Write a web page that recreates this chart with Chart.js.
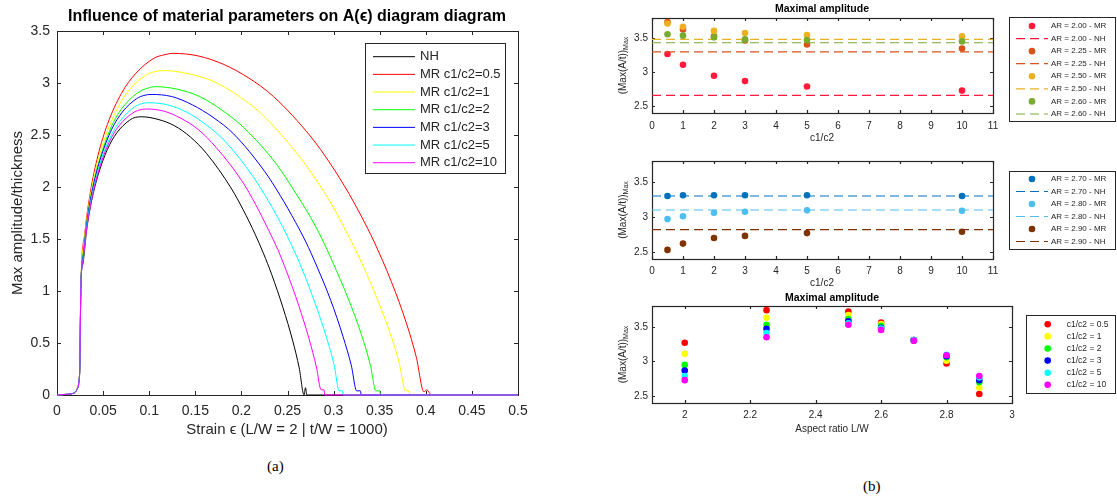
<!DOCTYPE html>
<html>
<head>
<meta charset="utf-8">
<script src="https://cdn.jsdelivr.net/npm/chart.js@4.4.1/dist/chart.umd.min.js"></script>
<style>
  body { margin: 0; background: #fff; }
  #page { position: relative; width: 1117px; height: 500px; overflow: hidden; background: #fff; }
  .box { position: absolute; }
  .cap { position: absolute; font-family: "Liberation Serif", "DejaVu Serif", serif; font-size: 15px; color: #000; }
</style>
</head>
<body>
<div id="page">
  <div class="box" style="left:0;top:0;width:540px;height:450px"><canvas id="chartA"></canvas></div>
  <div class="box" style="left:560px;top:0;width:557px;height:150px"><canvas id="chartB1"></canvas></div>
  <div class="box" style="left:560px;top:150px;width:557px;height:145px"><canvas id="chartB2"></canvas></div>
  <div class="box" style="left:560px;top:280px;width:557px;height:160px"><canvas id="chartB3"></canvas></div>
  <div class="cap" style="left:267px;top:458px">(a)</div>
  <div class="cap" style="left:863px;top:478px">(b)</div>
</div>
<script>
const SANS = '"Liberation Sans", Arial, sans-serif';
const AXIS = '#262626';

// ---- (a) amplitude vs strain, one pair of arrays per curve ----
const nhStrain   = [0, 0.008, 0.016, 0.02, 0.022, 0.0235, 0.0248, 0.026, 0.0281, 0.0322, 0.0376, 0.0444, 0.0546, 0.0648, 0.0784, 0.0852, 0.092, 0.1096, 0.1272, 0.1448, 0.1624, 0.1888, 0.202, 0.2152, 0.224, 0.2328, 0.2451, 0.2557, 0.2627, 0.268, 0.2695, 0.271, 0.5];
const nhAmp      = [0, 0.005, 0.012, 0.03, 0.06, 0.11, 0.3, 1.09, 1.26, 1.59, 1.87, 2.11, 2.36, 2.52, 2.64, 2.67, 2.675, 2.65, 2.59, 2.48, 2.32, 1.99, 1.78, 1.54, 1.36, 1.16, 0.84, 0.52, 0.26, 0, 0.07, 0, 0];
const mr05Strain = [0, 0.008, 0.016, 0.02, 0.022, 0.0235, 0.0248, 0.0258, 0.0301, 0.0362, 0.0444, 0.0546, 0.0699, 0.0852, 0.1056, 0.1158, 0.126, 0.1532, 0.1804, 0.2076, 0.2348, 0.2756, 0.296, 0.3164, 0.33, 0.3436, 0.3626, 0.379, 0.3898, 0.398, 0.401, 0.404, 0.406, 0.5];
const mr05Amp    = [0, 0.005, 0.012, 0.03, 0.06, 0.11, 0.3, 1.0, 1.55, 1.95, 2.30, 2.60, 2.90, 3.09, 3.24, 3.27, 3.285, 3.26, 3.18, 3.05, 2.87, 2.48, 2.23, 1.94, 1.72, 1.48, 1.09, 0.69, 0.36, 0.03, 0.05, 0.02, 0, 0];
const mr1Strain  = [0, 0.008, 0.016, 0.02, 0.022, 0.0235, 0.0248, 0.0258, 0.0295, 0.035, 0.0423, 0.0515, 0.0652, 0.0789, 0.0972, 0.1064, 0.1155, 0.1419, 0.1682, 0.1946, 0.2209, 0.2604, 0.2802, 0.3, 0.3131, 0.3263, 0.3447, 0.3606, 0.3711, 0.378, 0.382, 0.383, 0.5];
const mr1Amp     = [0, 0.005, 0.012, 0.03, 0.06, 0.11, 0.3, 1.0, 1.47, 1.85, 2.18, 2.46, 2.75, 2.94, 3.08, 3.11, 3.12, 3.09, 3.02, 2.89, 2.71, 2.32, 2.08, 1.80, 1.58, 1.35, 0.98, 0.61, 0.31, 0.04, 0.04, 0, 0];
const mr2Strain  = [0, 0.008, 0.016, 0.02, 0.022, 0.0235, 0.0248, 0.0258, 0.029, 0.0339, 0.0405, 0.0488, 0.0611, 0.0735, 0.09, 0.0983, 0.1065, 0.1306, 0.1546, 0.1787, 0.2027, 0.2388, 0.2568, 0.2749, 0.2869, 0.2989, 0.3157, 0.3302, 0.3398, 0.346, 0.35, 0.351, 0.5];
const mr2Amp     = [0, 0.005, 0.012, 0.03, 0.06, 0.11, 0.3, 1.0, 1.40, 1.76, 2.07, 2.34, 2.62, 2.79, 2.92, 2.95, 2.965, 2.94, 2.87, 2.74, 2.57, 2.21, 1.97, 1.71, 1.51, 1.28, 0.93, 0.58, 0.29, 0.04, 0.04, 0, 0];
const mr3Strain  = [0, 0.008, 0.016, 0.02, 0.022, 0.0235, 0.0248, 0.0258, 0.0287, 0.0334, 0.0396, 0.0474, 0.0591, 0.0708, 0.0864, 0.0942, 0.102, 0.1244, 0.1468, 0.1692, 0.1916, 0.2252, 0.242, 0.2588, 0.27, 0.2812, 0.2969, 0.3103, 0.3193, 0.325, 0.329, 0.330, 0.5];
const mr3Amp     = [0, 0.005, 0.012, 0.03, 0.06, 0.11, 0.3, 1.0, 1.36, 1.72, 2.02, 2.28, 2.55, 2.72, 2.85, 2.88, 2.89, 2.87, 2.79, 2.67, 2.51, 2.15, 1.92, 1.66, 1.47, 1.25, 0.91, 0.56, 0.28, 0.04, 0.04, 0, 0];
const mr5Strain  = [0, 0.008, 0.016, 0.02, 0.022, 0.0235, 0.0248, 0.0258, 0.0285, 0.033, 0.039, 0.0465, 0.0578, 0.069, 0.084, 0.0915, 0.099, 0.1198, 0.1406, 0.1614, 0.1822, 0.2134, 0.229, 0.2446, 0.255, 0.2654, 0.28, 0.2924, 0.3008, 0.306, 0.3095, 0.3105, 0.5];
const mr5Amp     = [0, 0.005, 0.012, 0.03, 0.06, 0.11, 0.3, 1.0, 1.32, 1.67, 1.96, 2.22, 2.48, 2.64, 2.77, 2.80, 2.81, 2.79, 2.72, 2.60, 2.44, 2.09, 1.87, 1.62, 1.43, 1.22, 0.88, 0.55, 0.28, 0.04, 0.04, 0, 0];
const mr10Strain = [0, 0.008, 0.016, 0.02, 0.022, 0.0235, 0.0248, 0.0258, 0.0283, 0.0327, 0.0385, 0.0457, 0.0566, 0.0674, 0.0819, 0.0892, 0.0964, 0.1155, 0.1345, 0.1536, 0.1726, 0.2012, 0.2155, 0.2298, 0.2394, 0.2489, 0.2622, 0.2737, 0.2813, 0.2865, 0.2895, 0.2905, 0.5];
const mr10Amp    = [0, 0.005, 0.012, 0.03, 0.06, 0.11, 0.3, 1.0, 1.30, 1.63, 1.92, 2.17, 2.43, 2.59, 2.71, 2.74, 2.75, 2.73, 2.66, 2.55, 2.38, 2.05, 1.83, 1.58, 1.40, 1.19, 0.86, 0.53, 0.27, 0.05, 0.05, 0, 0];

const strainTicks  = [0, 0.05, 0.1, 0.15, 0.2, 0.25, 0.3, 0.35, 0.4, 0.45, 0.5];
const strainLabels = ['0', '0.05', '0.1', '0.15', '0.2', '0.25', '0.3', '0.35', '0.4', '0.45', '0.5'];
const ampTicks     = [0, 0.5, 1, 1.5, 2, 2.5, 3, 3.5];
const ampLabels    = ['0', '0.5', '1', '1.5', '2', '2.5', '3', '3.5'];

// ---- (b) maximal amplitude, MR points per aspect ratio over c1/c2 ----
const ratios   = [0.5, 1, 2, 3, 5, 10];
const mrAR200  = [3.27, 3.11, 2.95, 2.87, 2.79, 2.73];
const mrAR225  = [3.74, 3.63, 3.53, 3.47, 3.41, 3.35];
const mrAR250  = [3.72, 3.67, 3.61, 3.58, 3.55, 3.53];
const mrAR260  = [3.56, 3.54, 3.515, 3.485, 3.475, 3.455];
const mrAR270  = [3.30, 3.31, 3.31, 3.31, 3.31, 3.30];
const mrAR280  = [2.97, 3.01, 3.06, 3.075, 3.095, 3.09];
const mrAR290  = [2.53, 2.62, 2.70, 2.73, 2.77, 2.79];
const aspect   = [2.00, 2.25, 2.50, 2.60, 2.70, 2.80, 2.90];
const aspectLb = ['2.00', '2.25', '2.50', '2.60', '2.70', '2.80', '2.90'];
const nhByAR   = [2.66, 3.30, 3.485, 3.435, 3.30, 3.10, 2.82];

const ratioTicks  = [0, 1, 2, 3, 4, 5, 6, 7, 8, 9, 10, 11];
const ratioLabels = ['0', '1', '2', '3', '4', '5', '6', '7', '8', '9', '10', '11'];
const maxTicks    = [2.5, 3, 3.5];
const maxLabels   = ['2.5', '3', '3.5'];
const arTicks     = [2, 2.2, 2.4, 2.6, 2.8, 3];
const arLabels    = ['2', '2.2', '2.4', '2.6', '2.8', '3'];

const mrByAR   = [mrAR200, mrAR225, mrAR250, mrAR260, mrAR270, mrAR280, mrAR290];
const arColors = ['#ff1a3c', '#d95319', '#edb120', '#77ac30', '#0072bd', '#4dbeee', '#7f3300'];
const ratioColors = ['#ff0000', '#ffff00', '#00ff00', '#0000ff', '#00ffff', '#ff00ff'];

// box round the axes with inward ticks, MATLAB style
const framePlugin = {
  id: 'frame',
  beforeDatasetsDraw(chart, args, o) {
    const { ctx, chartArea: a, scales: { x, y } } = chart;
    const t = o.tick || 4;
    ctx.save();
    ctx.strokeStyle = AXIS;
    ctx.lineWidth = o.width || 1;
    ctx.beginPath();
    x.ticks.forEach(tk => {
      const px = Math.round(x.getPixelForValue(tk.value)) + 0.5;
      ctx.moveTo(px, a.bottom); ctx.lineTo(px, a.bottom - t);
      ctx.moveTo(px, a.top); ctx.lineTo(px, a.top + t);
    });
    y.ticks.forEach(tk => {
      const py = Math.round(y.getPixelForValue(tk.value)) + 0.5;
      ctx.moveTo(a.left, py); ctx.lineTo(a.left + t, py);
      ctx.moveTo(a.right, py); ctx.lineTo(a.right - t, py);
    });
    ctx.stroke();
    ctx.strokeRect(Math.round(a.left) + 0.5, Math.round(a.top) + 0.5, Math.round(a.right - a.left), Math.round(a.bottom - a.top));
    ctx.restore();
  }
};

// titles and axis labels
const textPlugin = {
  id: 'texts',
  afterDraw(chart, args, o) {
    const ctx = chart.ctx;
    (o.items || []).forEach(it => {
      ctx.save();
      ctx.translate(it.x, it.y);
      if (it.rotate) ctx.rotate(it.rotate);
      ctx.fillStyle = it.color || AXIS;
      ctx.textBaseline = 'middle';
      ctx.font = it.font;
      if (it.sub) {
        const w1 = ctx.measureText(it.text).width;
        ctx.font = it.subFont;
        const w2 = ctx.measureText(it.sub).width;
        const x0 = -(w1 + w2) / 2;
        ctx.textAlign = 'left';
        ctx.font = it.font;
        ctx.fillText(it.text, x0, 0);
        ctx.font = it.subFont;
        ctx.fillText(it.sub, x0 + w1, it.subDy || 3);
      } else {
        ctx.textAlign = 'center';
        ctx.fillText(it.text, 0, 0);
      }
      ctx.restore();
    });
  }
};

// legend in a framed box, built from the datasets
const boxLegend = {
  id: 'boxLegend',
  afterDraw(chart, args, o) {
    if (!o.rect) return;
    const ctx = chart.ctx;
    const [bx, by, bw, bh] = o.rect;
    ctx.save();
    ctx.fillStyle = '#fff';
    ctx.fillRect(bx, by, bw, bh);
    ctx.strokeStyle = AXIS;
    ctx.lineWidth = 1;
    ctx.strokeRect(bx + 0.5, by + 0.5, bw, bh);
    ctx.font = o.font;
    ctx.textBaseline = 'middle';
    ctx.textAlign = 'left';
    chart.data.datasets.forEach((ds, i) => {
      const ry = o.row0 + i * o.rowGap;
      if (ds.type === 'scatter') {
        ctx.fillStyle = ds.backgroundColor;
        ctx.beginPath();
        ctx.arc(o.dotX, ry, ds.pointRadius, 0, Math.PI * 2);
        ctx.fill();
      } else {
        ctx.strokeStyle = ds.borderColor;
        ctx.lineWidth = ds.borderWidth;
        ctx.setLineDash(ds.borderDash || []);
        ctx.beginPath();
        ctx.moveTo(o.lineX[0], ry);
        ctx.lineTo(o.lineX[1], ry);
        ctx.stroke();
        ctx.setLineDash([]);
      }
      ctx.fillStyle = AXIS;
      ctx.fillText(ds.label, o.textX, ry);
    });
    ctx.restore();
  }
};

function axis(min, max, tickVals, tickLabels, size, fit, pad, font) {
  return {
    type: 'linear', min, max,
    grid: { display: false, drawTicks: false },
    border: { display: false },
    afterBuildTicks: s => { s.ticks = tickVals.map(v => ({ value: v })); },
    afterFit: s => { if (s.isHorizontal()) s.height = fit; else s.width = fit; },
    ticks: {
      autoSkip: false, maxRotation: 0, padding: pad, color: AXIS,
      font: { family: SANS, size: font },
      callback: (v, i) => tickLabels[i]
    }
  };
}

function baseOptions(padding, scales, plugins) {
  return {
    responsive: true, maintainAspectRatio: false, animation: false, devicePixelRatio: 1,
    layout: { padding },
    scales,
    plugins: Object.assign({ legend: { display: false }, tooltip: { enabled: false } }, plugins)
  };
}

// ---- chart (a) ----
const curves = [
  ['NH', '#000000', nhStrain, nhAmp],
  ['MR c1/c2=0.5', '#ff0000', mr05Strain, mr05Amp],
  ['MR c1/c2=1', '#ffff00', mr1Strain, mr1Amp],
  ['MR c1/c2=2', '#00ff00', mr2Strain, mr2Amp],
  ['MR c1/c2=3', '#0000ff', mr3Strain, mr3Amp],
  ['MR c1/c2=5', '#00ffff', mr5Strain, mr5Amp],
  ['MR c1/c2=10', '#ff00ff', mr10Strain, mr10Amp]
];

new Chart(document.getElementById('chartA'), {
  type: 'line',
  data: {
    datasets: curves.map(([label, color, xs, ys], i) => ({
      type: 'line', label, borderColor: color, borderWidth: 1, pointRadius: 0,
      fill: false, cubicInterpolationMode: 'monotone', clip: 3, order: -i,
      data: xs.map((x, k) => ({ x, y: ys[k] }))
    }))
  },
  options: baseOptions(
    { left: 0, right: 22, top: 31, bottom: 0 },
    {
      x: axis(0, 0.5, strainTicks, strainLabels, 0, 55, 8, 14),
      y: axis(0, 3.5, ampTicks, ampLabels, 0, 57, 7, 14)
    },
    {
      frame: { tick: 4, width: 1 },
      texts: { items: [
        { text: 'Influence of material parameters on A(\u03f5) diagram diagram', x: 287, y: 17, font: 'bold 16px ' + SANS, color: '#000' },
        { text: 'Strain \u03f5 (L/W = 2 | t/W = 1000)', x: 287, y: 430, font: '15px ' + SANS },
        { text: 'Max amplitude/thickness', x: 18, y: 213, rotate: -Math.PI / 2, font: '15px ' + SANS }
      ] },
      boxLegend: { rect: [365, 43, 140, 130], row0: 56.7, rowGap: 17.67, lineX: [373, 415], textX: 420, font: '13px ' + SANS }
    }
  ),
  plugins: [framePlugin, textPlugin, boxLegend]
});

// ---- chart (b): two c1/c2 panels and one aspect ratio panel ----
function arDatasets(idx) {
  const out = [];
  idx.forEach(k => {
    out.push({
      type: 'scatter', label: 'AR = ' + aspectLb[k] + ' - MR',
      data: ratios.map((r, j) => ({ x: r, y: mrByAR[k][j] })),
      backgroundColor: arColors[k], borderWidth: 0, pointRadius: 3.3, order: -out.length
    });
    out.push({
      type: 'line', label: 'AR = ' + aspectLb[k] + ' - NH',
      data: [{ x: 0, y: nhByAR[k] }, { x: 11, y: nhByAR[k] }],
      borderColor: arColors[k], borderWidth: 1.2, borderDash: [9, 5], pointRadius: 0, fill: false, order: -out.length
    });
  });
  return out;
}

function yLabel(x, y) {
  return { text: '(Max(A/t))', sub: 'Max', x, y, rotate: -Math.PI / 2, font: '10px ' + SANS, subFont: '7px ' + SANS, subDy: 3 };
}

new Chart(document.getElementById('chartB1'), {
  type: 'scatter',
  data: { datasets: arDatasets([0, 1, 2, 3]) },
  options: baseOptions(
    { left: 0, right: 124, top: 18, bottom: 0 },
    {
      x: axis(0, 11, ratioTicks, ratioLabels, 0, 37, 7, 10),
      y: axis(2.4, 3.8, maxTicks, maxLabels, 0, 92, 4, 10)
    },
    {
      frame: { tick: 3, width: 1.2 },
      texts: { items: [
        { text: 'Maximal amplitude', x: 262, y: 9, font: 'bold 10.5px ' + SANS, color: '#000' },
        { text: 'c1/c2', x: 262, y: 138, font: '10px ' + SANS },
        yLabel(63, 65.5)
      ] },
      boxLegend: { rect: [449, 17, 106, 104], row0: 26, rowGap: 12.57, dotX: 472, lineX: [456, 488], textX: 491, font: '8px ' + SANS }
    }
  ),
  plugins: [framePlugin, textPlugin, boxLegend]
});

new Chart(document.getElementById('chartB2'), {
  type: 'scatter',
  data: { datasets: arDatasets([4, 5, 6]) },
  options: baseOptions(
    { left: 0, right: 124, top: 11, bottom: 0 },
    {
      x: axis(0, 11, ratioTicks, ratioLabels, 0, 36, 6, 10),
      y: axis(2.4, 3.8, maxTicks, maxLabels, 0, 92, 4, 10)
    },
    {
      frame: { tick: 3, width: 1.2 },
      texts: { items: [
        { text: 'c1/c2', x: 262, y: 133, font: '10px ' + SANS },
        yLabel(63, 60)
      ] },
      boxLegend: { rect: [449, 21, 106, 78], row0: 29, rowGap: 12.5, dotX: 472, lineX: [456, 488], textX: 491, font: '8px ' + SANS }
    }
  ),
  plugins: [framePlugin, textPlugin, boxLegend]
});

new Chart(document.getElementById('chartB3'), {
  type: 'scatter',
  data: {
    datasets: ratios.map((r, j) => ({
      type: 'scatter', label: 'c1/c2 = ' + r,
      data: aspect.map((ar, k) => ({ x: ar, y: mrByAR[k][j] })),
      backgroundColor: ratioColors[j], borderWidth: 0, pointRadius: 3.3, order: -j
    }))
  },
  options: baseOptions(
    { left: 0, right: 105, top: 26, bottom: 0 },
    {
      x: axis(1.9, 3, arTicks, arLabels, 0, 37, 6, 10),
      y: axis(2.4, 3.8, maxTicks, maxLabels, 0, 92, 4, 10)
    },
    {
      frame: { tick: 3, width: 1.2 },
      texts: { items: [
        { text: 'Maximal amplitude', x: 272, y: 18, font: 'bold 10.5px ' + SANS, color: '#000' },
        { text: 'Aspect ratio L/W', x: 272, y: 149, font: '10px ' + SANS },
        yLabel(63, 74.5)
      ] },
      boxLegend: { rect: [466, 35, 89, 78], row0: 44.3, rowGap: 12.1, dotX: 487.7, textX: 506.7, font: '8.5px ' + SANS }
    }
  ),
  plugins: [framePlugin, textPlugin, boxLegend]
});
</script>
</body>
</html>
